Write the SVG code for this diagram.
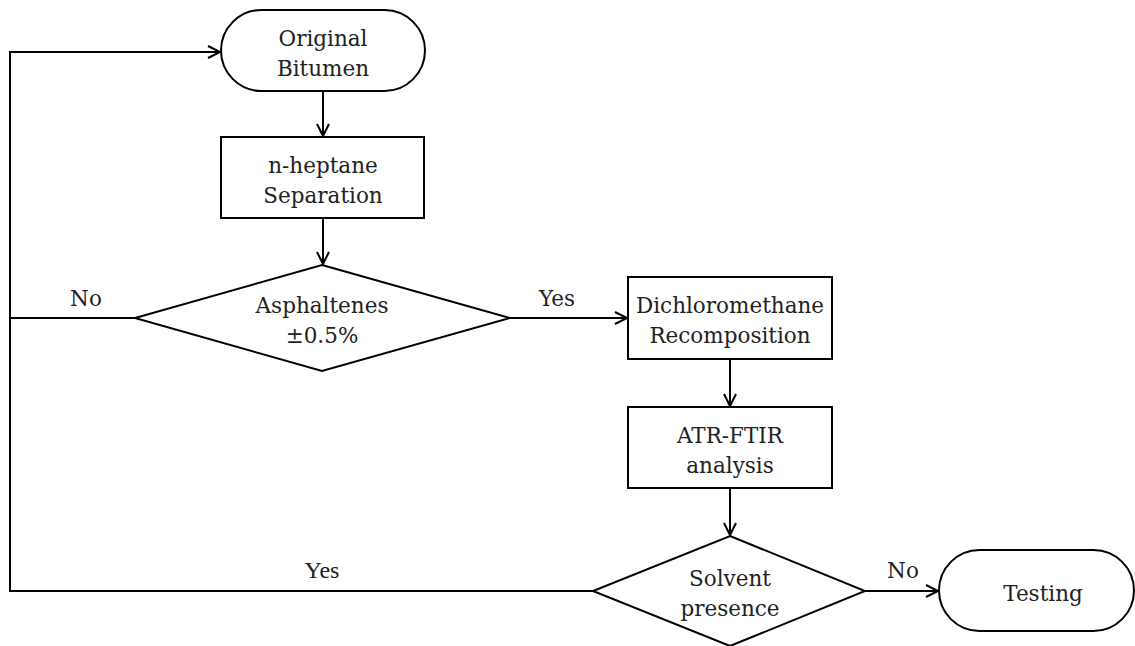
<svg xmlns="http://www.w3.org/2000/svg" width="1135" height="646" viewBox="0 0 1135 646">
<defs>
<style>
.shape{fill:#fff;stroke:#000;stroke-width:2}
.edge{fill:none;stroke:#000;stroke-width:2}
.t{font-family:"DejaVu Serif","Liberation Serif",serif;font-size:21.5px;fill:#222;text-anchor:middle}
.tt{font-family:"Liberation Serif",serif;font-size:24px;fill:#222;text-anchor:middle}
</style>
<marker id="arr" markerUnits="userSpaceOnUse" markerWidth="16" markerHeight="16" refX="13" refY="7" orient="auto">
<path d="M1,1 L13,7 L1,13" fill="none" stroke="#000" stroke-width="2"/>
</marker>
</defs>
<rect width="1135" height="646" fill="#fff"/>
<g id="connectors">
<polyline class="edge" points="593,591 10,591 10,52 220,52" marker-end="url(#arr)"/>
<line class="edge" x1="135" y1="318" x2="10" y2="318"/>
<line class="edge" x1="323" y1="91" x2="323" y2="136" marker-end="url(#arr)"/>
<line class="edge" x1="323" y1="218" x2="323" y2="264" marker-end="url(#arr)"/>
<line class="edge" x1="510" y1="318" x2="627" y2="318" marker-end="url(#arr)"/>
<line class="edge" x1="730" y1="359" x2="730" y2="406" marker-end="url(#arr)"/>
<line class="edge" x1="730" y1="488" x2="730" y2="535" marker-end="url(#arr)"/>
<line class="edge" x1="865" y1="591" x2="938" y2="591" marker-end="url(#arr)"/>
<text class="t" x="86" y="306">No</text>
<text class="t" x="557" y="306">Yes</text>
<text class="t" x="903" y="578">No</text>
<text class="tt" x="322" y="578">Yes</text>
</g>
<g id="original-bitumen">
<rect class="shape" x="221" y="10" width="204" height="81" rx="40.5"/>
<text class="t" x="323" y="46">Original</text>
<text class="t" x="323" y="76">Bitumen</text>
</g>
<g id="n-heptane">
<rect class="shape" x="221" y="137" width="203" height="81"/>
<text class="t" x="323" y="173">n-heptane</text>
<text class="t" x="323" y="203">Separation</text>
</g>
<g id="asphaltenes">
<polygon class="shape" points="322,265 510,318 322,371 135,318"/>
<text class="t" x="322" y="313">Asphaltenes</text>
<text class="t" x="322" y="343">±0.5%</text>
</g>
<g id="dichloromethane">
<rect class="shape" x="628" y="277" width="204" height="82"/>
<text class="t" x="730" y="313">Dichloromethane</text>
<text class="t" x="730" y="343">Recomposition</text>
</g>
<g id="atr-ftir">
<rect class="shape" x="628" y="407" width="204" height="81"/>
<text class="t" x="730" y="443">ATR-FTIR</text>
<text class="t" x="730" y="473">analysis</text>
</g>
<g id="solvent">
<polygon class="shape" points="730,536 865,591 730,646 593,591"/>
<text class="t" x="730" y="586">Solvent</text>
<text class="t" x="730" y="616">presence</text>
</g>
<g id="testing">
<rect class="shape" x="939" y="550" width="195" height="81" rx="40.5"/>
<text class="t" x="1043" y="601">Testing</text>
</g>
</svg>
